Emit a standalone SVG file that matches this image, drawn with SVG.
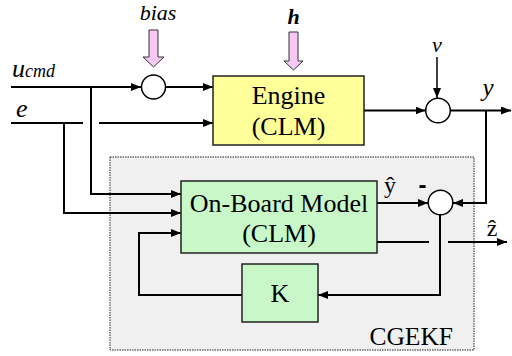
<svg xmlns="http://www.w3.org/2000/svg" width="512" height="356" viewBox="0 0 512 356">
<defs>
<marker id="ah" markerUnits="userSpaceOnUse" markerWidth="10" markerHeight="8" refX="10" refY="4" orient="auto">
<path d="M0,0 L10,4 L0,8 z" fill="#000"/>
</marker>
<style>
.ln{fill:none;stroke:#000;stroke-width:2}
.box{stroke:#222;stroke-width:1.5}
.sum{fill:#fff;stroke:#000;stroke-width:1.5}
.blk{fill:#f7c8f7;stroke:#333;stroke-width:1}
</style>
</defs>
<rect width="512" height="356" fill="#fff"/>
<g id="cgekf" font-family="'Liberation Serif', 'DejaVu Serif', serif">
<rect x="110" y="157" width="364" height="193" fill="#f0f0f0" stroke="#222" stroke-width="1" stroke-dasharray="1.5,1"/>
<text x="453" y="345" font-size="25.5" text-anchor="end">CGEKF</text>
</g>
<g id="connectors">
<polyline class="ln" points="11,87 141,87" marker-end="url(#ah)"/>
<polyline class="ln" points="166,87 213,87" marker-end="url(#ah)"/>
<polyline class="ln" points="11,123 83,123"/>
<polyline class="ln" points="99,123 213,123" marker-end="url(#ah)"/>
<polyline class="ln" points="91,87 91,194 181,194" marker-end="url(#ah)"/>
<polyline class="ln" points="64,123 64,213 181,213" marker-end="url(#ah)"/>
<polyline class="ln" points="364,110.5 425.5,110.5" marker-end="url(#ah)"/>
<polyline fill="none" stroke="#000" stroke-width="1.5" points="437,57 437,98" marker-end="url(#ah)"/>
<polyline class="ln" points="450.5,110.5 511,110.5" marker-end="url(#ah)"/>
<polyline class="ln" points="486,110.5 486,203 453,203" marker-end="url(#ah)"/>
<polyline class="ln" points="377,203 428,203" marker-end="url(#ah)"/>
<polyline class="ln" points="377,242 429,242"/>
<polyline class="ln" points="448,242 507,242" marker-end="url(#ah)"/>
<polyline class="ln" points="440,215 440,295 318,295" marker-end="url(#ah)"/>
<polyline class="ln" points="242,295 139,295 139,233 181,233" marker-end="url(#ah)"/>
<polygon class="blk" points="149,30 158,30 158,57 164,57 153.5,67 143,57 149,57"/>
<polygon class="blk" points="289,32 298,32 298,61 303,61 293.5,70 284,61 289,61"/>
</g>
<g id="sum1"><circle class="sum" cx="153.5" cy="87" r="12"/></g>
<g id="sum2"><circle class="sum" cx="438" cy="110.5" r="12.3"/></g>
<g id="sum3"><circle class="sum" cx="440.5" cy="202.5" r="12.3"/></g>
<g id="engine" font-family="'Liberation Serif', 'DejaVu Serif', serif" font-size="26" text-anchor="middle">
<rect class="box" x="213" y="76" width="151" height="69" fill="#ffff99"/>
<text x="288.5" y="104">Engine</text>
<text x="288.5" y="135">(CLM)</text>
</g>
<g id="obm" font-family="'Liberation Serif', 'DejaVu Serif', serif" font-size="26" text-anchor="middle">
<rect class="box" x="181" y="181" width="196" height="72" fill="#c8f7c8"/>
<text x="279" y="211.5">On-Board Model</text>
<text x="279" y="242">(CLM)</text>
</g>
<g id="k" font-family="'Liberation Serif', 'DejaVu Serif', serif" font-size="26" text-anchor="middle">
<rect class="box" x="242" y="264" width="76" height="58" fill="#c8f7c8"/>
<text x="280" y="302">K</text>
</g>
<g id="labels" font-family="'Liberation Serif', 'DejaVu Serif', serif">
<text x="158" y="20" font-size="22" font-style="italic" text-anchor="middle">bias</text>
<text x="293.5" y="24" font-size="22" font-style="italic" font-weight="bold" text-anchor="middle">h</text>
<text x="437" y="52" font-size="22" font-style="italic" text-anchor="middle">v</text>
<text x="488" y="96" font-size="25" font-style="italic" text-anchor="middle">y</text>
<text x="12" y="77" font-size="26" font-style="italic">u<tspan font-size="18">cmd</tspan></text>
<text x="16" y="117" font-size="26" font-style="italic">e</text>
<text x="390" y="193" font-size="24" text-anchor="middle">ŷ</text>
<text x="492" y="236" font-size="24" text-anchor="middle">ẑ</text>
<text x="422.5" y="193" font-family="'Liberation Sans', Arial, sans-serif" font-size="24" font-weight="bold" text-anchor="middle">-</text>
</g>
</svg>
